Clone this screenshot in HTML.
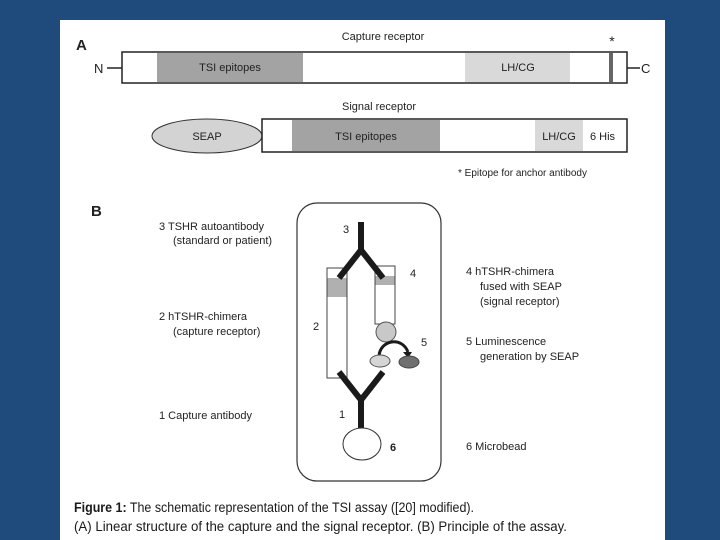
<!DOCTYPE html>
<html><head><style>
html,body{margin:0;padding:0;}
body{width:720px;height:540px;background:#1f4b7c;position:relative;overflow:hidden;font-family:"Liberation Sans",sans-serif;}
#p{position:absolute;left:60px;top:20px;width:605px;height:520px;background:#fff;}
</style></head><body>
<div id="p"></div>
<svg width="720" height="540" style="position:absolute;left:0;top:0" font-family="Liberation Sans, sans-serif">
<g font-size="11" fill="#222">
<text x="76" y="50" font-size="15" font-weight="bold">A</text>
<text x="383" y="40" text-anchor="middle">Capture receptor</text>
<text x="612" y="46" font-size="14" text-anchor="middle">*</text>
<line x1="107" y1="68" x2="122" y2="68" stroke="#222" stroke-width="1.5"/>
<line x1="627" y1="68" x2="640" y2="68" stroke="#222" stroke-width="1.5"/>
<text x="94" y="73" font-size="13">N</text>
<text x="641" y="73" font-size="13">C</text>
<rect x="122" y="52" width="505" height="31" fill="#fff" stroke="#222" stroke-width="1.5"/>
<rect x="157" y="53" width="146" height="29" fill="#a3a3a3"/>
<rect x="465" y="53" width="105" height="29" fill="#d9d9d9"/>
<rect x="609" y="53" width="4" height="29" fill="#666"/>
<text x="230" y="71" text-anchor="middle">TSI epitopes</text>
<text x="518" y="71" text-anchor="middle">LH/CG</text>
<text x="379" y="110" text-anchor="middle">Signal receptor</text>
<ellipse cx="207" cy="136" rx="55" ry="17" fill="#d3d3d3" stroke="#333"/>
<text x="207" y="140" text-anchor="middle">SEAP</text>
<rect x="262" y="119" width="365" height="33" fill="#fff" stroke="#222" stroke-width="1.5"/>
<rect x="292" y="120" width="148" height="31" fill="#a3a3a3"/>
<rect x="535" y="120" width="48" height="31" fill="#d9d9d9"/>
<text x="366" y="140" text-anchor="middle">TSI epitopes</text>
<text x="559" y="140" text-anchor="middle">LH/CG</text>
<text x="590" y="140">6 His</text>
<text x="458" y="176" font-size="10">* Epitope for anchor antibody</text>
<text x="91" y="216" font-size="15" font-weight="bold">B</text>
<text x="159" y="230">3  TSHR  autoantibody</text>
<text x="173" y="244">(standard or patient)</text>
<text x="159" y="320">2  hTSHR-chimera</text>
<text x="173" y="335">(capture receptor)</text>
<text x="159" y="419">1  Capture antibody</text>
<text x="466" y="275">4  hTSHR-chimera</text>
<text x="480" y="290">fused with SEAP</text>
<text x="480" y="305">(signal receptor)</text>
<text x="466" y="345">5  Luminescence</text>
<text x="480" y="360">generation by SEAP</text>
<text x="466" y="450">6  Microbead</text>
<rect x="297" y="203" width="144" height="278" rx="20" fill="none" stroke="#333" stroke-width="1.2"/>
<rect x="327" y="268" width="20" height="110" fill="#fff" stroke="#444"/>
<rect x="327.5" y="278" width="19" height="19" fill="#b0b0b0"/>
<rect x="375" y="266" width="20" height="58" fill="#fff" stroke="#444"/>
<rect x="375.5" y="276" width="19" height="9" fill="#b0b0b0"/>
<path d="M361 222 V250 M339 278 L361 250 L383 278" stroke="#1a1a1a" stroke-width="6" fill="none"/>
<path d="M339 372 L361 400 L383 372 M361 400 V430" stroke="#1a1a1a" stroke-width="6" fill="none"/>
<circle cx="386" cy="332" r="10" fill="#c8c8c8" stroke="#555"/>
<path d="M379 356 C380 340 402 336 408 352" stroke="#1a1a1a" stroke-width="3" fill="none"/>
<path d="M403 352 L412 352 L408 358 Z" fill="#1a1a1a"/>
<ellipse cx="380" cy="361" rx="10" ry="6" fill="#d5d5d5" stroke="#555"/>
<ellipse cx="409" cy="362" rx="10" ry="6" fill="#707070" stroke="#444"/>
<ellipse cx="362" cy="444" rx="19" ry="16" fill="#fff" stroke="#333"/>
<text x="343" y="233">3</text>
<text x="410" y="277">4</text>
<text x="313" y="330">2</text>
<text x="421" y="346">5</text>
<text x="339" y="418">1</text>
<text x="390" y="451" font-weight="bold">6</text>
</g>
<g font-size="13.5" fill="#1a1a1a" font-family="Liberation Sans Narrow, Liberation Sans, sans-serif">
<text x="74" y="512" textLength="400" lengthAdjust="spacingAndGlyphs"><tspan font-weight="bold">Figure 1:</tspan>  The schematic representation of the TSI assay ([20] modified).</text>
<text x="74" y="531" textLength="493" lengthAdjust="spacingAndGlyphs">(A) Linear structure of the capture and the signal receptor. (B) Principle of the assay.</text>
</g>
</svg>
</body></html>
